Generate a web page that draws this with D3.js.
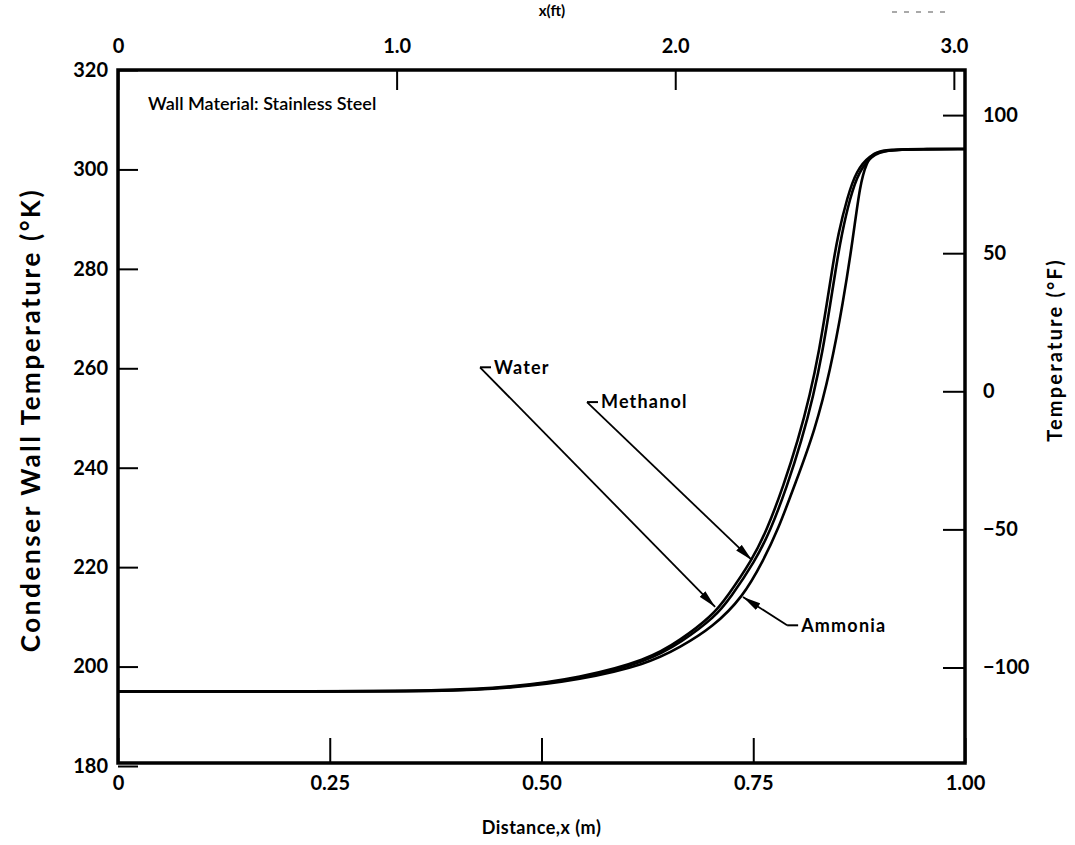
<!DOCTYPE html>
<html>
<head>
<meta charset="utf-8">
<script src="https://cdn.jsdelivr.net/npm/d3@7"></script>
<style>
  body { margin: 0; background: #fff; }
  svg text { font-family: Lato, "DejaVu Sans", sans-serif; fill: #000; }
</style>
</head>
<body>
<script>
/**
 * DATA
 */
const distTicks = [0, 0.25, 0.5, 0.75, 1.0];
const distLabels = ["0", "0.25", "0.50", "0.75", "1.00"];
const ftTicks = [0, 1, 2, 3];
const ftLabels = ["0", "1.0", "2.0", "3.0"];
const kelvinTicks = [180, 200, 220, 240, 260, 280, 300, 320];
const fahrTicks = [100, 50, 0, -50, -100];

const waterX = [0, 0.2, 0.388, 0.466, 0.545, 0.625, 0.664, 0.702, 0.719, 0.7485, 0.766, 0.786, 0.803, 0.817, 0.828, 0.837, 0.844, 0.85, 0.861, 0.872, 0.888, 0.903, 0.95, 1.0];
const waterT = [195, 195, 195.1, 195.9, 197.7, 201.3, 205.3, 210.3, 214.0, 221.4, 227.4, 236.5, 245.6, 254.6, 263.7, 273.1, 280.8, 286.8, 294.4, 299.9, 302.9, 303.9, 304.1, 304.1];

const methanolX = [0, 0.2, 0.388, 0.466, 0.545, 0.625, 0.666, 0.705, 0.723, 0.752, 0.77, 0.79, 0.807, 0.821, 0.832, 0.841, 0.848, 0.854, 0.864, 0.875, 0.89, 0.905, 0.95, 1.0];
const methanolT = [195, 195, 195.0, 195.8, 197.5, 201.0, 205.0, 210.0, 213.8, 221.2, 227.2, 236.3, 245.4, 254.4, 263.5, 273.0, 280.6, 286.6, 294.2, 299.7, 302.8, 303.9, 304.1, 304.1];

const ammoniaX = [0, 0.2, 0.388, 0.466, 0.545, 0.625, 0.664, 0.702, 0.738, 0.762, 0.779, 0.8, 0.823, 0.841, 0.856, 0.868, 0.876, 0.884, 0.892, 0.905, 0.95, 1.0];
const ammoniaT = [195, 195, 195.0, 195.7, 197.3, 200.5, 203.9, 207.9, 214.0, 221.4, 227.4, 237.0, 247.6, 259.6, 273.1, 286.4, 297.0, 301.5, 303.3, 304.0, 304.1, 304.1];

// label leaders: name, arrow tip (x, T), label corner (x, T)
const leaderNames = ["Water", "Methanol", "Ammonia"];
const leaderTipX = [0.705, 0.7485, 0.7379];
const leaderTipT = [212.0, 221.4, 214.0];
const leaderCornerX = [0.4274, 0.5537, 0.79];
const leaderCornerT = [260.2, 253.2, 208.3];

/**
 * SETUP
 */
const WIDTH = 1075, HEIGHT = 845;
const margin = { top: 70, left: 118, right: 110, bottom: 82 };
const innerW = WIDTH - margin.left - margin.right;
const innerH = HEIGHT - margin.top - margin.bottom;
const FONT_TICK = 20;

const svg = d3.select("body").append("svg")
  .attr("width", WIDTH)
  .attr("height", HEIGHT);

const g = svg.append("g").attr("transform", `translate(${margin.left},${margin.top})`);

const x = d3.scaleLinear().domain([0, 1]).range([0, innerW]);
const xFt = d3.scaleLinear().domain([0, 3.04]).range([0, innerW]);
const y = d3.scaleLinear().domain([180, 320]).range([innerH + 3, 0]);
const toF = (k) => k * 1.8 - 459.67;
const yF = d3.scaleLinear().domain([toF(180), toF(320)]).range([innerH + 3, 0]);

// axes, ticks point inward
const styleAxis = (sel) => {
  sel.select(".domain").remove();
  sel.selectAll(".tick line").attr("stroke", "#000").attr("stroke-width", 2);
  sel.selectAll(".tick text")
    .attr("font-size", FONT_TICK)
    .attr("font-weight", 700);
};

g.append("g")
  .attr("transform", `translate(0,${innerH})`)
  .call(d3.axisBottom(x).tickValues(distTicks)
    .tickFormat((d, i) => distLabels[i])
    .tickSizeInner(-25).tickSizeOuter(0).tickPadding(13))
  .call(styleAxis);

g.append("g")
  .call(d3.axisTop(xFt).tickValues(ftTicks)
    .tickFormat((d, i) => ftLabels[i])
    .tickSizeInner(-20).tickSizeOuter(0).tickPadding(17))
  .call(styleAxis);

g.append("g")
  .call(d3.axisLeft(y).tickValues(kelvinTicks)
    .tickFormat(d3.format("d"))
    .tickSizeInner(-20).tickSizeOuter(0).tickPadding(10))
  .call(styleAxis);

g.append("g")
  .attr("transform", `translate(${innerW},0)`)
  .call(d3.axisRight(yF).tickValues(fahrTicks)
    .tickFormat((d) => (d < 0 ? "\u2212" + Math.abs(d) : d))
    .tickSizeInner(-22).tickSizeOuter(0).tickPadding(18))
  .call(styleAxis);

// frame
g.append("rect")
  .attr("width", innerW)
  .attr("height", innerH)
  .attr("fill", "none")
  .attr("stroke", "#000")
  .attr("stroke-width", 3.5);

// curves
const line = d3.line()
  .x((d) => x(d[0]))
  .y((d) => y(d[1]))
  .curve(d3.curveBasis);

const series = [
  d3.zip(waterX, waterT),
  d3.zip(methanolX, methanolT),
  d3.zip(ammoniaX, ammoniaT),
];

g.append("g").selectAll("path")
  .data(series)
  .join("path")
  .attr("d", line)
  .attr("fill", "none")
  .attr("stroke", "#000")
  .attr("stroke-width", 2.6)
  .attr("stroke-linejoin", "round");

// leader lines with arrowheads
svg.append("defs").append("marker")
  .attr("id", "arrow")
  .attr("markerUnits", "userSpaceOnUse")
  .attr("viewBox", "0 0 18 9")
  .attr("refX", 18).attr("refY", 4.5)
  .attr("markerWidth", 18).attr("markerHeight", 9)
  .attr("orient", "auto")
  .append("path")
  .attr("d", "M0,0.5 L18,4.5 L0,8.5 Z")
  .attr("fill", "#000");

const leaders = leaderNames.map((name, i) => ({
  name,
  tip: [leaderTipX[i], leaderTipT[i]],
  corner: [leaderCornerX[i], leaderCornerT[i]],
}));

const lg = g.append("g");
lg.selectAll("line.leader")
  .data(leaders)
  .join("line")
  .attr("class", "leader")
  .attr("x1", (d) => x(d.corner[0]))
  .attr("y1", (d) => y(d.corner[1]))
  .attr("x2", (d) => x(d.tip[0]))
  .attr("y2", (d) => y(d.tip[1]))
  .attr("stroke", "#000")
  .attr("stroke-width", 1.8)
  .attr("marker-end", "url(#arrow)");

lg.selectAll("line.dash")
  .data(leaders)
  .join("line")
  .attr("class", "dash")
  .attr("x1", (d) => x(d.corner[0]))
  .attr("y1", (d) => y(d.corner[1]))
  .attr("x2", (d) => x(d.corner[0]) + 11)
  .attr("y2", (d) => y(d.corner[1]))
  .attr("stroke", "#000")
  .attr("stroke-width", 2);

lg.selectAll("text")
  .data(leaders)
  .join("text")
  .attr("x", (d) => x(d.corner[0]) + 14)
  .attr("y", (d) => y(d.corner[1]))
  .attr("dy", "0.35em")
  .attr("font-size", 18)
  .attr("font-weight", 700)
  .attr("letter-spacing", 1.2)
  .text((d) => d.name);

// titles
g.append("text")
  .attr("x", 30)
  .attr("y", 40)
  .attr("font-size", 18)
  .attr("font-weight", 600)
  .text("Wall Material: Stainless Steel");

g.append("text")
  .attr("x", x(0.5))
  .attr("y", innerH + 71)
  .attr("text-anchor", "middle")
  .attr("font-size", 18)
  .attr("font-weight", 700)
  .attr("letter-spacing", 0.5)
  .text("Distance,x (m)");

svg.append("text")
  .attr("transform", `translate(40,420) rotate(-90)`)
  .attr("text-anchor", "middle")
  .attr("font-size", 26)
  .attr("font-weight", 700)
  .attr("letter-spacing", 2.6)
  .text("Condenser Wall Temperature (\u00b0K)");

svg.append("text")
  .attr("transform", `translate(1062,350) rotate(-90)`)
  .attr("text-anchor", "middle")
  .attr("font-size", 20)
  .attr("font-weight", 700)
  .attr("letter-spacing", 2.2)
  .text("Temperature (\u00b0F)");

svg.append("text")
  .attr("x", 552)
  .attr("y", 16)
  .attr("text-anchor", "middle")
  .attr("font-size", 15)
  .attr("font-weight", 700)
  .text("x(ft)");

// stray dashes along the top edge of the scan
svg.append("line")
  .attr("x1", 892).attr("x2", 952)
  .attr("y1", 12).attr("y2", 12)
  .attr("stroke", "#555")
  .attr("stroke-width", 1.2)
  .attr("stroke-dasharray", "5,7");
</script>
</body>
</html>
